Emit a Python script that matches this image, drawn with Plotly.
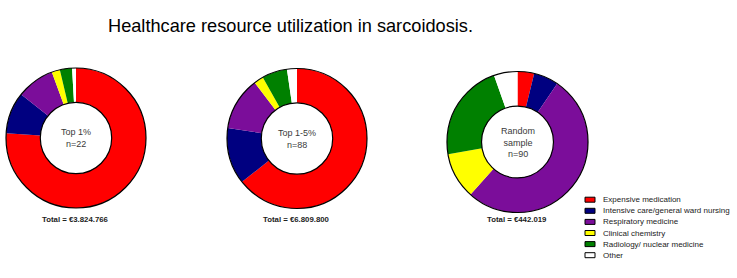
import plotly.graph_objects as go

categories = ["Expensive medication", "Intensive care/general ward nursing",
              "Respiratory medicine", "Clinical chemistry",
              "Radiology/ nuclear medicine", "Other"]
colors = ["#ff0000", "#000080", "#7b0d9a", "#ffff00", "#008000", "#ffffff"]

top1 = [76.1, 9.6, 8.7, 1.9, 2.8, 0.9]
top1_5 = [64.3, 13.0, 12.3, 2.2, 5.8, 2.3]
random_sample = [3.8, 5.7, 52.1, 10.6, 22.4, 5.4]

group_labels = ["Top 1%<br>n=22", "Top 1-5%<br>n=88", "Random<br>sample<br>n=90"]
totals = ["Total = €3.824.766", "Total = €6.809.800", "Total = €442.019"]

W, H = 737, 278


def px(x):
    return x / W


def py(y):
    return 1 - y / H


# pixel geometry (center x, center y, radius) in window coordinates
geo = [(76, 138, 70), (297, 138.5, 70), (517.5, 142, 70.5)]
HOLE = 0.51

fig = go.Figure()
for vals, (cx, cy, r) in zip([top1, top1_5, random_sample], geo):
    dom = dict(x=[px(cx - r), px(cx + r)], y=[py(cy + r), py(cy - r)])
    fig.add_trace(go.Pie(
        labels=categories, values=vals, sort=False, direction="clockwise",
        rotation=0, hole=HOLE, domain=dom, textinfo="none", hoverinfo="label+percent",
        marker=dict(colors=colors, line=dict(width=0)), showlegend=False))
    fig.add_trace(go.Pie(
        labels=[" "], values=[1], hole=HOLE, domain=dom, textinfo="none",
        hoverinfo="skip", showlegend=False, sort=False,
        marker=dict(colors=["rgba(0,0,0,0)"], line=dict(color="black", width=1.2))))

FONT = "Liberation Sans, Arial"
ann = []
for lab, tot, (cx, cy, r) in zip(group_labels, totals, geo):
    ann.append(dict(x=px(cx), y=py(cy), xref="paper", yref="paper",
                    text=lab, showarrow=False, xanchor="center", yanchor="middle",
                    font=dict(family=FONT, size=9, color="#3a3a3a")))
    ann.append(dict(x=px(cx - 0.5), y=py(219), xref="paper", yref="paper",
                    text="<b>" + tot + "</b>", showarrow=False, xanchor="center",
                    yanchor="middle",
                    font=dict(family=FONT, size=7.8, color="#222222")))

# legend (drawn manually to match compact spacing)
shapes = []
for i, (c, name) in enumerate(zip(colors, categories)):
    yc = 199.7 + i * 11.1
    shapes.append(dict(type="rect", xref="paper", yref="paper",
                       x0=px(585), x1=px(595), y0=py(yc + 2.5), y1=py(yc - 2.5),
                       fillcolor=c, line=dict(color="black", width=1)))
    ann.append(dict(x=px(601), y=py(yc), xref="paper", yref="paper",
                    text=name, showarrow=False, xanchor="left", yanchor="middle",
                    font=dict(family=FONT, size=8, color="#222222")))

ann.append(dict(x=px(290), y=py(26.5), xref="paper", yref="paper",
                text="Healthcare resource utilization in sarcoidosis.", showarrow=False,
                xanchor="center", yanchor="middle",
                font=dict(family=FONT, size=18.2, color="black")))

fig.update_layout(width=W, height=H, margin=dict(l=0, r=0, t=0, b=0),
                  paper_bgcolor="white", plot_bgcolor="white",
                  annotations=ann, shapes=shapes, showlegend=False)

fig.write_html("out.html", config={"displayModeBar": False},
               post_script="document.body.style.margin='0';")
